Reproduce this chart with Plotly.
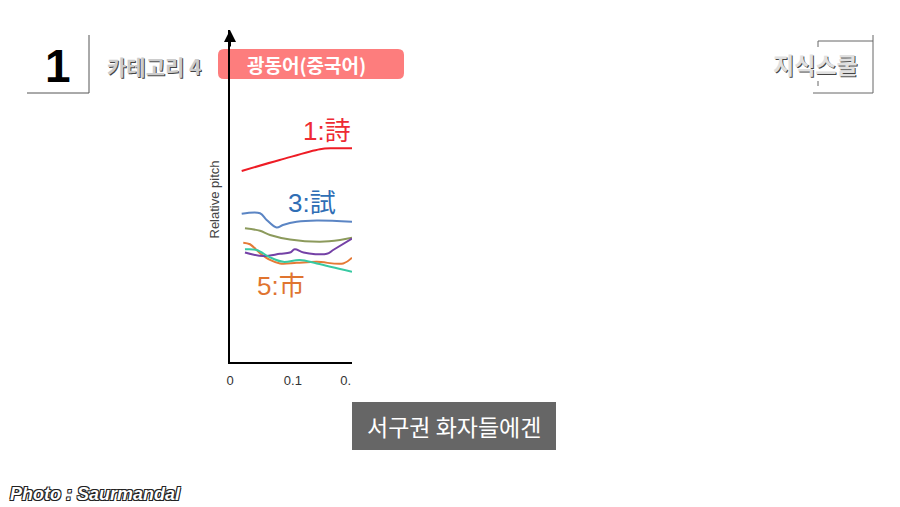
import plotly.graph_objects as go

# Pitch contours (x = time in s, y = relative pitch, arbitrary units)
red_x = [0.0186, 0.079, 0.143, 0.164, 0.194]
red_y = [5.97, 6.31, 6.65, 6.68, 6.68]

blue_x = [0.0186, 0.0477, 0.0583, 0.0742, 0.0842, 0.106, 0.138, 0.194]
blue_y = [4.63, 4.65, 4.44, 4.20, 4.28, 4.38, 4.42, 4.38]

olive_x = [0.0238, 0.0477, 0.0636, 0.0954, 0.143, 0.175, 0.194]
olive_y = [4.18, 4.10, 3.97, 3.83, 3.76, 3.81, 3.88]

orange_x = [0.0211, 0.0318, 0.0477, 0.0636, 0.0795, 0.106, 0.138, 0.180, 0.194]
orange_y = [3.73, 3.68, 3.40, 3.19, 3.08, 3.10, 3.13, 3.08, 3.26]

purple_x = [0.0238, 0.0529, 0.0795, 0.0954, 0.103, 0.117, 0.154, 0.164, 0.194]
purple_y = [3.42, 3.31, 3.38, 3.42, 3.52, 3.42, 3.38, 3.50, 3.86]

teal_x = [0.0238, 0.0424, 0.0636, 0.0847, 0.111, 0.138, 0.194]
teal_y = [3.52, 3.50, 3.27, 3.13, 3.19, 3.08, 2.82]

tick_vals = [0, 0.1, 0.184]
tick_text = ["0", "0.1", "0."]

# tone labels: (text, x, y, colour)
tone_labels = [
    ("1:詩", 0.155, 7.22, "#ee2a33"),
    ("3:試", 0.130, 4.97, "#2f6eb5"),
    ("5:市", 0.081, 2.38, "#e0742f"),
]

series = [
    (red_x, red_y, "#ee1c25"),
    (blue_x, blue_y, "#5b85c4"),
    (olive_x, olive_y, "#8c9a5c"),
    (orange_x, orange_y, "#e57a36"),
    (purple_x, purple_y, "#7441a6"),
    (teal_x, teal_y, "#37c9a2"),
]

KR = "Noto Sans CJK KR"
W, H = 900, 507
OFF = 8  # page body margin
L, R, T, B = 230, 352, 30, 362  # plot area in screen pixels


def px(x):
    # screen pixel -> paper (plot-area) fraction
    return (x - L) / (R - L)


def py(y):
    return (B - y) / (B - T)


def rounded_rect(x0, y0, x1, y1, r):
    # svg path in paper coords, corners rounded by r screen pixels
    ax0, ax1, ay0, ay1 = px(x0), px(x1), py(y1), py(y0)
    rx, ry = r / (R - L), r / (B - T)
    return (f"M {ax0 + rx} {ay0} L {ax1 - rx} {ay0} Q {ax1} {ay0} {ax1} {ay0 + ry} "
            f"L {ax1} {ay1 - ry} Q {ax1} {ay1} {ax1 - rx} {ay1} "
            f"L {ax0 + rx} {ay1} Q {ax0} {ay1} {ax0} {ay1 - ry} "
            f"L {ax0} {ay0 + ry} Q {ax0} {ay0} {ax0 + rx} {ay0} Z")


fig = go.Figure()
for xs, ys, col in series:
    fig.add_trace(go.Scatter(
        x=xs, y=ys, mode="lines", line=dict(color=col, width=2, shape="spline"),
        showlegend=False, hoverinfo="skip",
    ))

for txt, x, y, col in tone_labels:
    fig.add_annotation(x=x, y=y, text=txt, showarrow=False,
                       font=dict(family="Liberation Sans, " + KR, size=26, color=col))

# y axis arrow head
fig.add_annotation(x=0, y=10.375, ax=0, ay=18, text="", showarrow=True,
                   arrowhead=2, arrowsize=1.2, arrowwidth=2, arrowcolor="black")

fig.add_annotation(xref="paper", yref="paper", x=px(205), y=py(200),
                   text="Relative pitch", textangle=-90, showarrow=False,
                   font=dict(family="Liberation Sans", size=13, color="#444"))

line_kw = dict(xref="paper", yref="paper", type="line")
shapes = [
    # "1" frame
    dict(**line_kw, x0=px(89), x1=px(89), y0=py(35), y1=py(93), line=dict(color="#555", width=1)),
    dict(**line_kw, x0=px(27), x1=px(89), y0=py(93), y1=py(93), line=dict(color="#555", width=1)),
    # pink tag
    dict(type="path", xref="paper", yref="paper", path=rounded_rect(218, 49, 404, 79, 6),
         fillcolor="#fd7d7d", line=dict(width=0), layer="below"),
    # logo frame
    dict(**line_kw, x0=px(818), x1=px(873), y0=py(41), y1=py(41), line=dict(color="#666", width=1)),
    dict(**line_kw, x0=px(873), x1=px(873), y0=py(35), y1=py(93), line=dict(color="#666", width=1)),
    dict(**line_kw, x0=px(813), x1=px(873), y0=py(93), y1=py(93), line=dict(color="#666", width=1)),
    dict(**line_kw, x0=px(818), x1=px(818), y0=py(41), y1=py(47), line=dict(color="#666", width=1)),
    dict(**line_kw, x0=px(818), x1=px(818), y0=py(81), y1=py(86), line=dict(color="#666", width=1)),
    # caption box
    dict(type="rect", xref="paper", yref="paper", x0=px(352), x1=px(556), y0=py(450), y1=py(402),
         fillcolor="#666666", line=dict(width=0)),
]

paper_text = [
    ("1", 58, 66, dict(family="Liberation Sans", size=46, color="black", weight="bold")),
    ("카테고리 4", 154, 66, dict(family=KR, size=21, color="#cccccc", weight="bold",
                              shadow="1px 1px 0px #444")),
    ("광동어(중국어)", 306, 64, dict(family=KR, size=19, color="white", weight="bold")),
    ("지식스쿨", 815, 64, dict(family=KR, size=23, color="#e0e0e0", weight="bold",
                            shadow="1px 1px 0px #444")),
    ("서구권 화자들에겐", 454, 426, dict(family=KR, size=23, color="white")),
    ("<i>Photo : Saurmandal</i>", 95, 494, dict(family="Liberation Sans", size=18, color="white",
                                               weight="bold",
                                               shadow="1px 1px 0 #222, -1px -1px 0 #222, 1px -1px 0 #222, -1px 1px 0 #222")),
]
for txt, x, y, f in paper_text:
    fig.add_annotation(xref="paper", yref="paper", x=px(x), y=py(y), text=txt,
                       showarrow=False, xanchor="center", yanchor="middle", font=f)

fig.update_layout(
    width=W, height=H,
    margin=dict(l=L - OFF, r=W - R + OFF, t=T - OFF, b=H - B + OFF, pad=0),
    paper_bgcolor="white", plot_bgcolor="white",
    shapes=shapes,
    xaxis=dict(range=[0, 0.194], showgrid=False, zeroline=False, showline=True,
               linecolor="black", linewidth=2, tickvals=tick_vals, ticktext=tick_text,
               ticks="", ticklabelstandoff=5,
               tickfont=dict(family="Liberation Sans", size=13, color="#333")),
    yaxis=dict(range=[0, 10.375], showgrid=False, zeroline=False, showline=True,
               linecolor="black", linewidth=2, showticklabels=False, ticks=""),
)

fig.write_html("out.html")
